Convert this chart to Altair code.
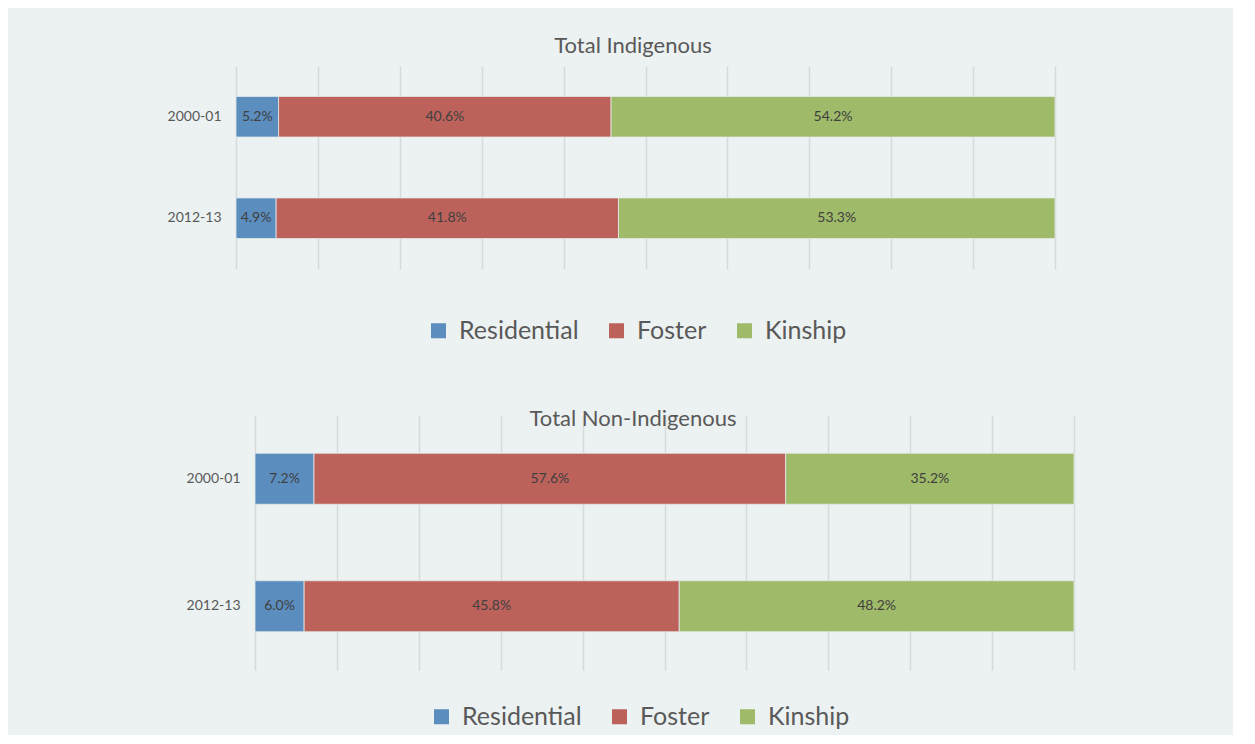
import altair as alt
import pandas as pd

categories = ["Residential", "Foster", "Kinship"]
years = ["2000-01", "2012-13"]
indigenous_2000 = [5.2, 40.6, 54.2]
indigenous_2012 = [4.9, 41.8, 53.3]
non_indigenous_2000 = [7.2, 57.6, 35.2]
non_indigenous_2012 = [6.0, 45.8, 48.2]
colors = ["#5B8DBE", "#BC625B", "#9FBA68"]
grid_ticks = [0, 10, 20, 30, 40, 50, 60, 70, 80, 90, 100]

FONT = "Lato"
TXT = "#595959"


def make_df(a, b):
    rows = []
    for year, vals in zip(years, [a, b]):
        for i, (c, v) in enumerate(zip(categories, vals)):
            rows.append({"year": year, "type": c, "order": i, "value": v})
    return pd.DataFrame(rows)


def panel(df, title, height, shift, title_offset, title_dx, legend_x, legend_y):
    base = alt.Chart(df).transform_stack(
        stack="value", groupby=["year"], as_=["v0", "v1"],
        sort=[alt.SortField("order", order="ascending")]
    ).transform_calculate(
        mid="(datum.v0 + datum.v1) / 2",
        label="format(datum.value, '.1f') + '%'"
    )
    bars = base.mark_bar(stroke="#e4eaea", strokeWidth=0.8).encode(
        x=alt.X("v0:Q", scale=alt.Scale(domain=[0, 100], nice=False, range=[shift, 819 + shift]),
                axis=alt.Axis(values=grid_ticks, labels=False, ticks=False, domain=False,
                              grid=True, gridColor="#d6dada", gridWidth=1.5, title=None)),
        x2="v1:Q",
        y=alt.Y("year:N", sort=years,
                scale=alt.Scale(paddingInner=0.6, paddingOuter=0.3),
                axis=alt.Axis(title=None, ticks=False, domain=False, labelPadding=15,
                              offset=-shift,
                              labelFontSize=14, labelColor=TXT, labelFont=FONT,
                              minExtent=70, maxExtent=70)),
        color=alt.Color("type:N", scale=alt.Scale(domain=categories, range=colors),
                        legend=alt.Legend(orient="none", direction="horizontal",
                                          legendX=legend_x, legendY=legend_y, title=None,
                                          symbolType="square", symbolSize=225,
                                          symbolStrokeWidth=0, labelFontSize=25,
                                          labelFont=FONT, labelColor=TXT,
                                          columnPadding=25, labelOffset=8,
                                          labelLimit=300)),
    )
    text = base.mark_text(fontSize=14, font=FONT, color="#404040").encode(
        x="mid:Q",
        y=alt.Y("year:N", sort=years),
        text="label:N",
    )
    return alt.layer(bars, text).properties(
        width=838, height=height,
        title=alt.TitleParams(title, fontSize=22, font=FONT, color=TXT,
                              fontWeight="normal", offset=title_offset, dx=title_dx,
                              anchor="middle", frame="group"),
    )


top = panel(make_df(indigenous_2000, indigenous_2012), "Total Indigenous",
            203, 0, 8, 633 - 655, 190, 252)
bottom = panel(make_df(non_indigenous_2000, non_indigenous_2012), "Total Non-Indigenous",
               255, 19, -16, 633 - 655, 193, 289)

chart = alt.concat(top, bottom, columns=1, spacing=64).properties(
    padding={"left": 158, "top": 27, "right": 158, "bottom": 5},
    background="#ecf1f1",
).configure_view(stroke=None).resolve_scale(color="independent").resolve_legend(color="independent")

chart.save("out.html", embed_options={"renderer": "svg", "actions": False})
